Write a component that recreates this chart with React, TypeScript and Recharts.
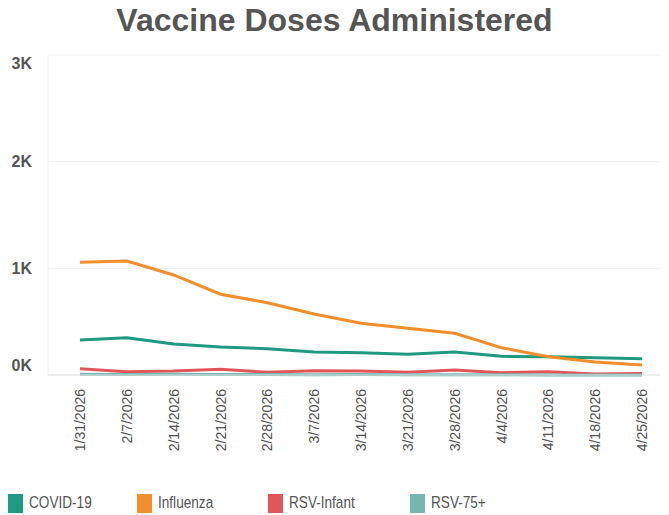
import { LineChart, Line, XAxis, YAxis, CartesianGrid } from "recharts"

const dates = [
  "1/31/2026", "2/7/2026", "2/14/2026", "2/21/2026", "2/28/2026", "3/7/2026", "3/14/2026",
  "3/21/2026", "3/28/2026", "4/4/2026", "4/11/2026", "4/18/2026", "4/25/2026",
]
const covid = [328, 350, 290, 262, 247, 216, 209, 194, 216, 175, 172, 162, 152]
const influenza = [1057, 1069, 938, 757, 678, 572, 485, 438, 391, 256, 172, 122, 94]
const rsvInfant = [59, 31, 37, 53, 25, 40, 37, 25, 47, 22, 31, 9, 14]
const rsv75 = [8, 5, 6, 4, 5, 3, 4, 3, 2, 2, 1, 1, 1]
const yTicks = [0, 1000, 2000, 3000]

const series = [
  { key: "covid", name: "COVID-19", color: "#1f9a80" },
  { key: "influenza", name: "Influenza", color: "#f28e2b" },
  { key: "rsvInfant", name: "RSV-Infant", color: "#e15759" },
  { key: "rsv75", name: "RSV-75+", color: "#76b7b2" },
]

const data = dates.map((d, i) => ({
  date: d,
  covid: covid[i],
  influenza: influenza[i],
  rsvInfant: rsvInfant[i],
  rsv75: rsv75[i],
}))

const font = "'Liberation Sans', Arial, sans-serif"
// left edge of each legend item
const legendX = [8, 137, 268, 410]

function YTick({ x, y, payload }: any) {
  // tableau nudges the end labels inside the pane
  let dy = 0
  if (payload.value === 3000) dy = 8
  if (payload.value === 0) dy = -10
  return (
    <text x={x} y={y + dy} textAnchor="end" dominantBaseline="central"
      fill="#555" fontSize={16} fontWeight="bold" fontFamily={font}>
      {`${payload.value / 1000}K`}
    </text>
  )
}

function XTick({ x, y, payload }: any) {
  return (
    <text x={x} y={y} transform={`rotate(-90, ${x}, ${y})`} textAnchor="end"
      dominantBaseline="central" fill="#505050" fontSize={14} fontFamily={font}>
      {payload.value}
    </text>
  )
}

export default function App() {
  return (
    <div style={{ position: "absolute", left: 0, top: 0, width: 669, height: 515, background: "#fff", fontFamily: font }}>
      <div style={{ position: "absolute", left: 0, top: 2, width: 669, textAlign: "center", fontSize: 32, fontWeight: "bold", color: "#555" }}>
        Vaccine Doses Administered
      </div>
      <div style={{ position: "absolute", left: 0, top: 0 }}>
        <LineChart width={669} height={480} data={data} margin={{ top: 55, right: 9, bottom: 25, left: 8 }}>
          <CartesianGrid stroke="#efefef" vertical={false} />
          <XAxis dataKey="date" interval={0} tick={<XTick />} tickLine={false}
            axisLine={{ stroke: "#e3e3e3" }} height={80} padding={{ left: 32, right: 18 }} tickMargin={8} />
          <YAxis domain={[0, 3000]} ticks={yTicks} tick={<YTick />} width={40}
            axisLine={{ stroke: "#f0f0f0" }} tickLine={false} tickMargin={10} />
          {series.map((s) => (
            <Line key={s.key} type="linear" dataKey={s.key} name={s.name} stroke={s.color}
              strokeWidth={3} dot={false} isAnimationActive={false} />
          ))}
        </LineChart>
      </div>
      {series.map((s, i) => (
        <div key={s.key} style={{ position: "absolute", top: 493, left: legendX[i], display: "flex", alignItems: "center", fontSize: 17, color: "#555" }}>
          <span style={{ display: "inline-block", width: 15, height: 19, background: s.color, marginRight: 6 }} />
          <span style={{ display: "inline-block", transform: "scaleX(0.8)", transformOrigin: "left center", whiteSpace: "nowrap" }}>{s.name}</span>
        </div>
      ))}
    </div>
  )
}
